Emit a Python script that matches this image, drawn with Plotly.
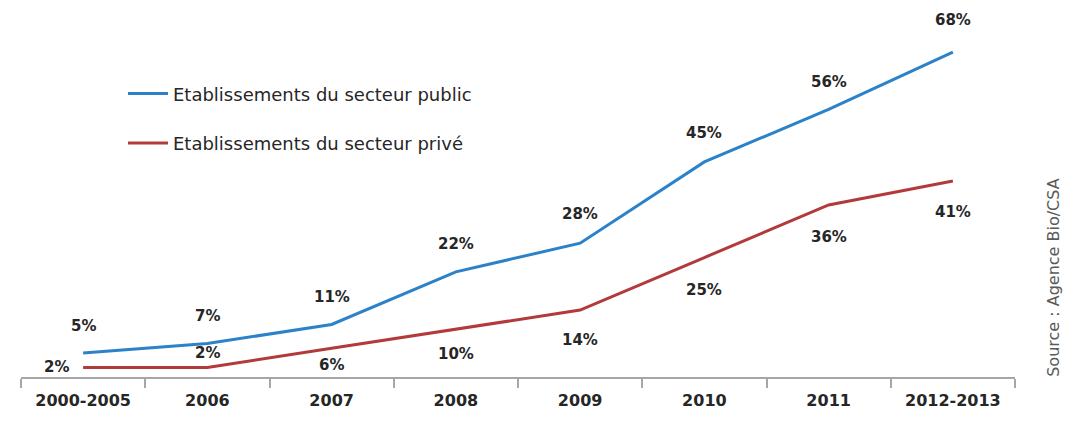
import plotly.graph_objects as go

# Share of establishments, by period
periods = ["2000-2005", "2006", "2007", "2008", "2009", "2010", "2011", "2012-2013"]
public_pct = [5, 7, 11, 22, 28, 45, 56, 68]
private_pct = [2, 2, 6, 10, 14, 25, 36, 41]

public_name = "Etablissements du secteur public"
private_name = "Etablissements du secteur privé"
source_text = "Source : Agence Bio/CSA"

BLUE = "#2b82c9"
RED = "#b23a3a"
TEXT = "#262626"
FONT = "DejaVu Sans"

# vertical pixel offsets of value labels (positive = above the point)
public_label_shift = [27, 28, 27, 28, 29, 29, 27, 32]
private_label_shift = [0, 14, -17, -25, -30, -32, -32, -31]
private_label_xshift = [-27, 0, 0, 0, 0, 0, 0, 0]

fig = go.Figure()
fig.add_trace(go.Scatter(
    x=periods, y=public_pct, mode="lines", name=public_name,
    line=dict(color=BLUE, width=3), legendgroup="a", hoverinfo="skip"))
fig.add_trace(go.Scatter(
    x=periods, y=private_pct, mode="lines", name=private_name,
    line=dict(color=RED, width=3), legendgroup="b", hoverinfo="skip"))

label_font = dict(family=FONT, size=15, color=TEXT, weight="bold")
annotations = []
for i, (v, s) in enumerate(zip(public_pct, public_label_shift)):
    annotations.append(dict(x=i, y=v, text=f"{v}%", showarrow=False, yshift=s,
                            font=label_font))
for i, (v, s, xs) in enumerate(zip(private_pct, private_label_shift, private_label_xshift)):
    annotations.append(dict(x=i, y=v, text=f"{v}%", showarrow=False, yshift=s, xshift=xs,
                            font=label_font))
annotations.append(dict(xref="paper", yref="paper", x=1.038, y=0.28,
                        xanchor="center", yanchor="middle", text=source_text,
                        textangle=-90, showarrow=False,
                        font=dict(family=FONT, size=16, color="#595959")))

fig.update_layout(
    width=1074, height=439,
    margin=dict(l=21, r=59, t=20, b=62),
    paper_bgcolor="white", plot_bgcolor="white",
    showlegend=True,
    legend=dict(x=0.1026, y=0.845, xanchor="left", yanchor="top",
                font=dict(family=FONT, size=18, color=TEXT),
                itemwidth=40, tracegroupgap=23, bgcolor="rgba(0,0,0,0)"),
    annotations=annotations,
)
fig.update_xaxes(type="category", range=[-0.5, 7.5], showgrid=False,
                 showline=True, linecolor="#a6a6a6", linewidth=2,
                 ticks="outside", tickson="boundaries", ticklen=9,
                 tickcolor="#a6a6a6", tickwidth=2,
                 ticklabelstandoff=8,
                 tickfont=dict(family=FONT, size=16, color=TEXT, weight="bold"))
fig.update_yaxes(range=[0, 74.7], showgrid=False, showline=False,
                 showticklabels=False, zeroline=False, ticks="")

fig.write_html("out.html")
